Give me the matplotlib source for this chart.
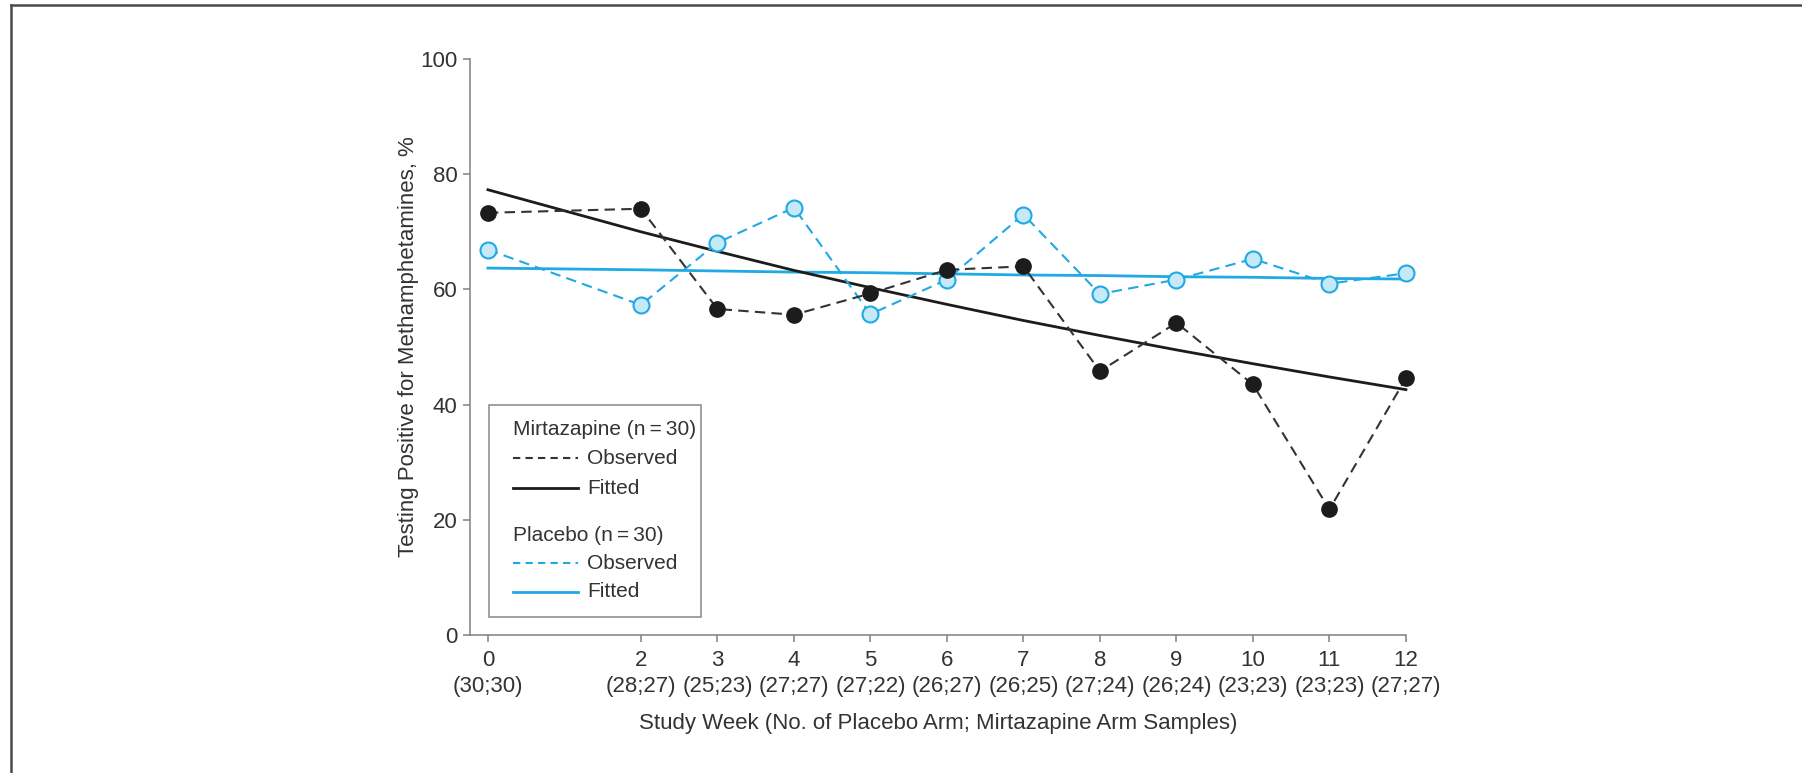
import matplotlib
matplotlib.use('Agg')
import matplotlib.pyplot as plt
from matplotlib.lines import Line2D
from matplotlib.patches import Rectangle

plt.rcParams['font.family'] = ['Liberation Sans', 'DejaVu Sans']

weeks = [0, 2, 3, 4, 5, 6, 7, 8, 9, 10, 11, 12]
samples = ['(30;30)', '(28;27)', '(25;23)', '(27;27)', '(27;22)', '(26;27)',
           '(26;25)', '(27;24)', '(26;24)', '(23;23)', '(23;23)', '(27;27)']

mirt_observed = [73.3, 74.0, 56.6, 55.6, 59.3, 63.4, 64.0, 45.8, 54.2, 43.5, 21.8, 44.6]
mirt_fitted = [77.3, 70.0, 66.6, 63.3, 60.3, 57.4, 54.6, 52.0, 49.5, 47.1, 44.8, 42.6]
plac_observed = [66.9, 57.3, 68.1, 74.2, 55.7, 61.7, 73.0, 59.2, 61.7, 65.3, 61.0, 62.8]
plac_fitted = [63.7, 63.4, 63.2, 63.0, 62.9, 62.7, 62.5, 62.4, 62.2, 62.1, 61.9, 61.8]

BLACK = '#1c1c1c'
DASH_BLACK = '#333333'
BLUE = '#20a9e3'
BLUE_FILL = '#c6e9f8'
AXIS = '#808080'
TEXT = '#333333'
FS = 16
LEG_FS = 15

fig = plt.figure(figsize=(18.02, 7.73), dpi=100)
ax = fig.add_axes([0.2608, 0.1785, 0.5194, 0.7452])

dash = (5, 3)
ax.plot(weeks, plac_fitted, '-', color=BLUE, lw=2.0, zorder=2, clip_on=False)
ax.plot(weeks, mirt_fitted, '-', color=BLACK, lw=2.0, zorder=2, clip_on=False)
ax.plot(weeks, plac_observed, '--', color=BLUE, lw=1.5, dashes=dash, zorder=3,
        marker='o', markersize=11.5, markerfacecolor=BLUE_FILL,
        markeredgecolor=BLUE, markeredgewidth=1.5, clip_on=False)
ax.plot(weeks, mirt_observed, '--', color=DASH_BLACK, lw=1.5, dashes=dash, zorder=4,
        marker='o', markersize=11, markerfacecolor=BLACK,
        markeredgecolor=BLACK, clip_on=False)

ax.set_xlim(-0.235, 12)
ax.set_ylim(0, 100)
ax.set_xticks(weeks)
ax.set_xticklabels(['{}\n{}'.format(w, s) for w, s in zip(weeks, samples)],
                   linespacing=1.3)
ax.set_yticks([0, 20, 40, 60, 80, 100])

for side in ['top', 'right']:
    ax.spines[side].set_visible(False)
for side in ['left', 'bottom']:
    ax.spines[side].set_color(AXIS)
    ax.spines[side].set_linewidth(1.1)
ax.tick_params(axis='both', direction='out', length=5, width=1.1, color=AXIS,
               labelsize=FS, labelcolor=TEXT)
ax.tick_params(axis='y', pad=4)
ax.tick_params(axis='x', pad=6)

ax.set_xlabel('Study Week (No. of Placebo Arm; Mirtazapine Arm Samples)',
              fontsize=FS, color=TEXT)
ax.set_ylabel('Testing Positive for Methamphetamines, %', fontsize=FS, color=TEXT)
ax.xaxis.set_label_coords(0.5, -0.136)
ax.yaxis.set_label_coords(-0.0545, 0.5)

# legend drawn by hand to match the boxed layout
tr = ax.transAxes
ax.add_patch(Rectangle((0.0203, 0.0313), 0.2265, 0.368, transform=tr,
                       fill=True, facecolor='white', edgecolor='#888888',
                       lw=1.1, zorder=5))
hx0, hx1, tx = 0.0459, 0.1154, 0.125
rows = [
    (0.3576, 'Mirtazapine (n\u2009=\u200930)', None, None),
    (0.3073, 'Observed', DASH_BLACK, '--'),
    (0.2552, 'Fitted', BLACK, '-'),
    (0.1719, 'Placebo (n\u2009=\u200930)', None, None),
    (0.1250, 'Observed', BLUE, '--'),
    (0.0747, 'Fitted', BLUE, '-'),
]
for y, label, col, ls in rows:
    if col is None:
        ax.text(hx0, y, label, transform=tr, fontsize=LEG_FS, color=TEXT,
                va='center', ha='left', zorder=6)
    else:
        ln = Line2D([hx0, hx1], [y, y], transform=tr, color=col,
                    lw=1.5 if ls == '--' else 2.0, zorder=6)
        if ls == '--':
            ln.set_dashes((3.5, 2.5))
        ax.add_line(ln)
        ax.text(tx, y, label, transform=tr, fontsize=LEG_FS, color=TEXT,
                va='center', ha='left', zorder=6)

# cropped page frame (top and left edges)
fig.add_artist(Line2D([0.0061, 1.0], [0.9935, 0.9935], color='#4a4a4a', lw=1.8))
fig.add_artist(Line2D([0.0061, 0.0061], [0.0, 0.9935], color='#4a4a4a', lw=1.8))

fig.savefig('out.png', dpi=100)
